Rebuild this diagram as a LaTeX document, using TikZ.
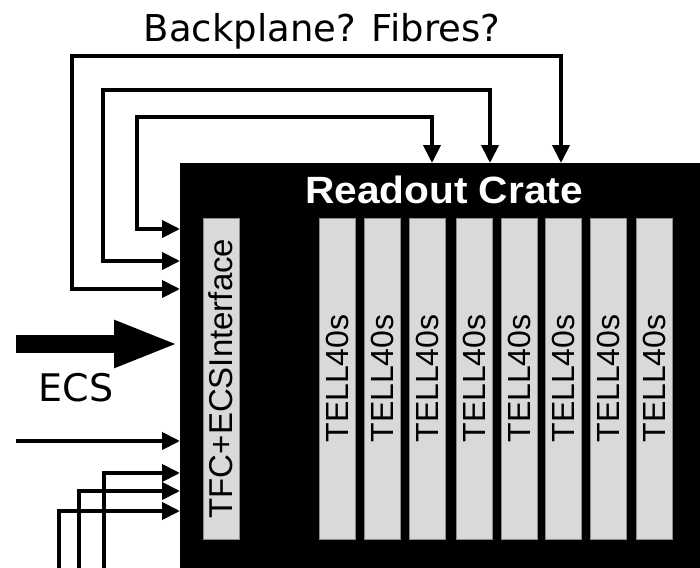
\documentclass[tikz,border=0pt]{standalone}
\usepackage{fontspec}
\setmainfont{DejaVu Sans}
\newfontfamily\arialfont{Liberation Sans}
\usetikzlibrary{arrows.meta}
\begin{document}
\begin{tikzpicture}[x=1pt,y=-1pt,
  conn/.style={line width=4pt, -{Triangle[length=18pt,width=17pt]}},
  conntwo/.style={line width=4pt, {Triangle[length=18pt,width=17pt]}-{Triangle[length=18pt,width=17pt]}},
  bigarrow/.style={line width=18pt, -{Triangle[length=65pt,width=43pt]}},
  card/.style={rotate=90, fill=black!15, draw=black!45, line width=0.8pt,
    minimum width=321pt, minimum height=36pt, inner sep=0pt,
    font=\arialfont\fontsize{32}{32}\selectfont},
  cratebox/.style={fill=black, minimum width=530pt, minimum height=420pt,
    anchor=north west, inner sep=0pt}]
\useasboundingbox (0,0) rectangle (700,567);
% crate
\node[cratebox] (crate) at (180,163) {};
\node[text=white, font=\arialfont\bfseries\fontsize{38}{38}\selectfont, xscale=1.07, anchor=base] (title) at (444,203) {Readout Crate};
% interface and cards
\node[card, font=\arialfont\fontsize{33}{33}\selectfont] (iface) at (221,378.5) {TFC+ECSInterface};
\node[card] (c1) at (337,378.5) {TELL40s};
\node[card] (c2) at (382,378.5) {TELL40s};
\node[card] (c3) at (427,378.5) {TELL40s};
\node[card] (c4) at (474,378.5) {TELL40s};
\node[card] (c5) at (519,378.5) {TELL40s};
\node[card] (c6) at (563,378.5) {TELL40s};
\node[card] (c7) at (608,378.5) {TELL40s};
\node[card] (c8) at (654,378.5) {TELL40s};
% labels
\node[font=\fontsize{37}{37}\selectfont, anchor=base, inner sep=0pt] (bp) at (322,42) {Backplane? Fibres?};
\node[font=\fontsize{38}{38}\selectfont, anchor=base, inner sep=0pt] (ecs) at (76,401) {ECS};
% connector end points
\coordinate (l1) at (180,229);
\coordinate (l2) at (180,261);
\coordinate (l3) at (180,289);
\coordinate (t1) at (432,163);
\coordinate (t2) at (490,163);
\coordinate (t3) at (561,163);
\coordinate (e0) at (16,344);
\coordinate (e1) at (179,344);
\coordinate (s0) at (16,441);
\coordinate (s1) at (180,441);
\coordinate (b1) at (180,473);
\coordinate (b2) at (180,491);
\coordinate (b3) at (180,511);
\coordinate (v1) at (104,575);
\coordinate (v2) at (79,575);
\coordinate (v3) at (59,575);
% top loops
\draw[conntwo] (l1) -| (137,117) -| (t1);
\draw[conntwo] (l2) -| (103,90) -| (t2);
\draw[conntwo] (l3) -| (72,56) -| (t3);
% ECS
\draw[bigarrow] (e0) -- (e1);
\draw[conn] (s0) -- (s1);
\draw[conn] (v1) |- (b1);
\draw[conn] (v2) |- (b2);
\draw[conn] (v3) |- (b3);
\end{tikzpicture}
\end{document}
